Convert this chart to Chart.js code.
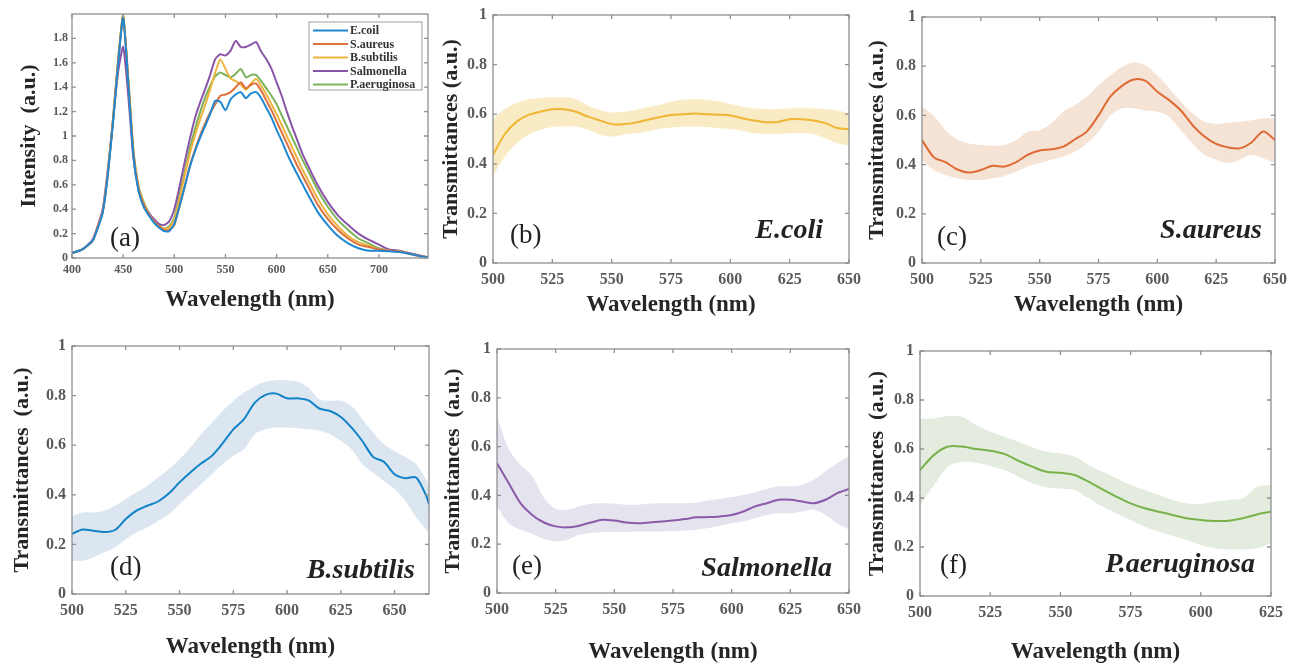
<!DOCTYPE html>
<html>
<head>
<meta charset="utf-8">
<title>Bacteria spectra</title>
<script src="https://cdn.jsdelivr.net/npm/chart.js"></script>
<style>
  html, body { margin: 0; padding: 0; background: #fff; overflow: hidden; }
  body { width: 1297px; height: 665px; position: relative; }
  canvas { position: absolute; }
</style>
</head>
<body>
<canvas id="chartA"></canvas>
<canvas id="chartB"></canvas>
<canvas id="chartC"></canvas>
<canvas id="chartD"></canvas>
<canvas id="chartE"></canvas>
<canvas id="chartF"></canvas>
<script>
// ---- (a) emission spectra ----
const waveA = [400,410,420,425,430,435,440,445,450,455,460,465,470,475,480,485,490,495,500,505,510,515,520,525,530,535,540,545,550,555,560,565,570,575,580,585,590,595,600,605,610,615,620,625,630,640,650,660,670,680,690,700,710,720,730,740,748];
const ecoliA = [0.04,0.07,0.14,0.24,0.37,0.68,1.10,1.58,1.97,1.43,0.84,0.55,0.42,0.35,0.29,0.25,0.22,0.22,0.28,0.42,0.58,0.74,0.87,0.98,1.08,1.18,1.29,1.28,1.21,1.30,1.34,1.36,1.31,1.35,1.36,1.31,1.23,1.15,1.05,0.96,0.86,0.77,0.69,0.61,0.53,0.38,0.27,0.18,0.12,0.08,0.06,0.06,0.055,0.05,0.035,0.015,0.005];
const saureusA = [0.04,0.07,0.14,0.25,0.38,0.69,1.12,1.60,1.98,1.45,0.86,0.57,0.44,0.36,0.30,0.26,0.23,0.23,0.27,0.42,0.58,0.75,0.88,1.00,1.10,1.19,1.26,1.33,1.34,1.36,1.40,1.44,1.39,1.42,1.43,1.37,1.29,1.21,1.12,1.03,0.94,0.85,0.76,0.68,0.60,0.44,0.32,0.23,0.16,0.11,0.09,0.07,0.06,0.055,0.035,0.015,0.005];
const bsubtilisA = [0.04,0.07,0.14,0.25,0.38,0.70,1.13,1.61,1.99,1.46,0.88,0.58,0.45,0.36,0.30,0.26,0.24,0.25,0.31,0.48,0.67,0.85,1.00,1.13,1.25,1.38,1.52,1.63,1.55,1.47,1.45,1.42,1.38,1.43,1.47,1.41,1.34,1.26,1.18,1.09,1.00,0.91,0.82,0.73,0.65,0.49,0.36,0.26,0.18,0.13,0.10,0.07,0.06,0.055,0.035,0.015,0.005];
const salmonellaA = [0.04,0.07,0.15,0.26,0.40,0.72,1.12,1.52,1.73,1.33,0.82,0.56,0.44,0.37,0.32,0.28,0.27,0.30,0.40,0.58,0.78,0.97,1.14,1.27,1.38,1.50,1.63,1.67,1.66,1.70,1.78,1.73,1.73,1.75,1.77,1.69,1.63,1.55,1.44,1.33,1.20,1.08,0.97,0.86,0.77,0.60,0.46,0.35,0.27,0.20,0.15,0.11,0.07,0.06,0.04,0.02,0.005];
const paeruginosaA = [0.04,0.07,0.14,0.25,0.38,0.70,1.13,1.62,1.98,1.47,0.89,0.59,0.46,0.37,0.31,0.27,0.24,0.26,0.33,0.51,0.70,0.89,1.05,1.19,1.31,1.41,1.49,1.52,1.50,1.48,1.51,1.55,1.48,1.50,1.50,1.45,1.39,1.33,1.26,1.17,1.08,0.99,0.90,0.81,0.73,0.56,0.42,0.31,0.23,0.16,0.12,0.08,0.06,0.055,0.035,0.015,0.005];
const namesA = ['E.coil','S.aureus','B.subtilis','Salmonella','P.aeruginosa'];
const xTicksA = [400,450,500,550,600,650,700];
const yTicksA = [0,0.2,0.4,0.6,0.8,1,1.2,1.4,1.6,1.8];

// ---- (b)-(f) transmittance, mean with spread ----
const wave500to650 = [500,505,510,515,520,525,530,535,540,545,550,555,560,565,570,575,580,585,590,595,600,605,610,615,620,625,630,635,640,645,650];
const waveD = [500,505,510,515,520,525,530,535,540,545,550,555,560,565,570,575,580,585,590,595,600,605,610,615,620,625,630,635,640,645,650,655,660,665,666];
const waveF = [500,505,510,515,520,525,530,535,540,545,550,555,560,565,570,575,580,585,590,595,600,605,610,615,620,625];

const meanB = [0.436,0.52,0.57,0.597,0.61,0.62,0.62,0.61,0.59,0.575,0.56,0.56,0.566,0.577,0.588,0.597,0.60,0.603,0.60,0.598,0.595,0.584,0.575,0.568,0.569,0.58,0.58,0.575,0.564,0.544,0.54];
const upperB = [0.58,0.62,0.645,0.66,0.665,0.668,0.668,0.66,0.634,0.617,0.607,0.61,0.617,0.628,0.637,0.65,0.658,0.66,0.658,0.651,0.642,0.63,0.624,0.62,0.62,0.624,0.624,0.624,0.62,0.615,0.604];
const lowerB = [0.35,0.43,0.483,0.517,0.537,0.548,0.55,0.55,0.537,0.517,0.51,0.517,0.523,0.53,0.54,0.546,0.55,0.55,0.548,0.544,0.54,0.533,0.523,0.52,0.52,0.523,0.523,0.52,0.503,0.483,0.474];

const meanC = [0.50,0.43,0.41,0.38,0.368,0.378,0.395,0.392,0.41,0.44,0.457,0.462,0.473,0.503,0.534,0.60,0.676,0.72,0.746,0.74,0.696,0.662,0.62,0.56,0.514,0.484,0.47,0.466,0.49,0.535,0.50];
const upperC = [0.635,0.60,0.54,0.503,0.486,0.48,0.477,0.48,0.50,0.534,0.54,0.568,0.615,0.642,0.676,0.723,0.763,0.797,0.815,0.804,0.763,0.71,0.655,0.608,0.574,0.565,0.57,0.574,0.58,0.588,0.588];
const lowerC = [0.42,0.378,0.358,0.345,0.338,0.338,0.345,0.354,0.372,0.392,0.405,0.42,0.432,0.453,0.486,0.534,0.60,0.628,0.628,0.62,0.615,0.595,0.54,0.486,0.44,0.42,0.408,0.42,0.44,0.426,0.405];

const meanD = [0.242,0.26,0.255,0.25,0.258,0.302,0.336,0.356,0.373,0.405,0.45,0.49,0.526,0.557,0.607,0.664,0.705,0.772,0.803,0.808,0.789,0.789,0.781,0.748,0.738,0.714,0.671,0.617,0.553,0.533,0.483,0.467,0.47,0.39,0.362];
const upperD = [0.315,0.329,0.329,0.336,0.356,0.383,0.41,0.436,0.47,0.503,0.544,0.59,0.644,0.691,0.738,0.778,0.812,0.839,0.856,0.862,0.862,0.856,0.832,0.785,0.779,0.779,0.758,0.705,0.651,0.604,0.577,0.553,0.523,0.456,0.43];
const lowerD = [0.134,0.134,0.148,0.168,0.188,0.221,0.248,0.268,0.295,0.322,0.362,0.403,0.443,0.483,0.523,0.557,0.584,0.644,0.664,0.671,0.671,0.668,0.664,0.658,0.644,0.617,0.584,0.523,0.49,0.456,0.423,0.376,0.309,0.255,0.248];

const meanE = [0.532,0.45,0.368,0.32,0.289,0.273,0.269,0.276,0.289,0.30,0.297,0.289,0.286,0.289,0.293,0.297,0.303,0.31,0.311,0.314,0.32,0.334,0.355,0.368,0.382,0.382,0.375,0.368,0.382,0.409,0.426];
const upperE = [0.723,0.59,0.525,0.48,0.39,0.345,0.341,0.355,0.366,0.368,0.366,0.362,0.362,0.366,0.368,0.368,0.368,0.371,0.379,0.385,0.393,0.402,0.413,0.426,0.437,0.437,0.443,0.464,0.498,0.532,0.559];
const lowerE = [0.355,0.286,0.259,0.243,0.221,0.211,0.218,0.239,0.246,0.25,0.25,0.25,0.252,0.252,0.252,0.254,0.255,0.259,0.266,0.276,0.286,0.293,0.307,0.32,0.327,0.327,0.334,0.341,0.32,0.286,0.259];

const meanF = [0.514,0.576,0.61,0.61,0.60,0.593,0.58,0.552,0.528,0.507,0.503,0.494,0.467,0.435,0.405,0.378,0.358,0.344,0.331,0.317,0.31,0.306,0.307,0.317,0.333,0.344];
const upperF = [0.725,0.725,0.735,0.732,0.698,0.671,0.65,0.63,0.607,0.589,0.582,0.569,0.535,0.507,0.48,0.453,0.433,0.412,0.392,0.378,0.376,0.385,0.392,0.399,0.446,0.453];
const lowerF = [0.371,0.453,0.528,0.548,0.544,0.531,0.514,0.487,0.46,0.444,0.439,0.433,0.399,0.365,0.337,0.31,0.283,0.263,0.245,0.229,0.208,0.195,0.19,0.19,0.195,0.215];

const xTicks650 = [500,525,550,575,600,625,650];
const xTicks625 = [500,525,550,575,600,625];
const yTicksT = [0,0.2,0.4,0.6,0.8,1];

const serif = "'Liberation Serif', 'Times New Roman', serif";
const pts = (xs, ys) => xs.map((x, i) => ({x: x, y: ys[i]}));

// box, inward ticks, panel letters, species name, legend
const frame = {
  id: 'frame',
  afterDraw(chart, args, o) {
    const {ctx, chartArea: a} = chart;
    const xs = chart.scales.x, ys = chart.scales.y;
    ctx.save();
    ctx.strokeStyle = '#909090';
    ctx.lineWidth = 1.3;
    ctx.strokeRect(a.left, a.top, a.right - a.left, a.bottom - a.top);
    ctx.beginPath();
    xs.ticks.forEach(t => {
      const p = xs.getPixelForValue(t.value);
      ctx.moveTo(p, a.bottom); ctx.lineTo(p, a.bottom - 4);
      ctx.moveTo(p, a.top); ctx.lineTo(p, a.top + 4);
    });
    ys.ticks.forEach(t => {
      const p = ys.getPixelForValue(t.value);
      ctx.moveTo(a.left, p); ctx.lineTo(a.left + 4, p);
      ctx.moveTo(a.right, p); ctx.lineTo(a.right - 4, p);
    });
    ctx.stroke();

    ctx.fillStyle = '#222';
    ctx.textBaseline = 'alphabetic';
    ctx.textAlign = 'left';
    ctx.font = '27px ' + serif;
    ctx.fillText(o.tag, a.left + o.tagDx, a.bottom + o.tagDy);
    if (o.name) {
      ctx.textAlign = 'right';
      ctx.font = 'italic bold 28px ' + serif;
      ctx.fillText(o.name, a.right + o.nameDx, a.bottom + o.nameDy);
    }
    if (o.legend) {
      const lg = o.legend;
      const bx = a.left + lg.dx, by = a.top + lg.dy;
      ctx.fillStyle = '#fff';
      ctx.fillRect(bx, by, lg.w, lg.h);
      ctx.strokeStyle = '#a0a0a0';
      ctx.lineWidth = 1;
      ctx.strokeRect(bx, by, lg.w, lg.h);
      ctx.font = 'bold 12px ' + serif;
      ctx.textAlign = 'left';
      ctx.textBaseline = 'middle';
      chart.data.datasets.forEach((ds, i) => {
        const cy = by + 8.5 + i * 13.5;
        ctx.strokeStyle = ds.borderColor;
        ctx.lineWidth = 2;
        ctx.beginPath(); ctx.moveTo(bx + 4, cy); ctx.lineTo(bx + 39, cy); ctx.stroke();
        ctx.fillStyle = '#333';
        ctx.fillText(ds.label, bx + 41, cy + 0.5);
      });
    }
    ctx.restore();
  }
};

function makePanel(id, area, xAxis, yAxis, datasets, frameOpts, tickSize, yTitle) {
  const yLH = 22 * 1.2, xLH = 23 * 1.2;
  const left = Math.round(area.yTitle - yLH / 2);
  const top = area.T - 12;
  const right = area.R + 18;
  const bottom = Math.round(area.xTitle + xLH / 2);
  const cv = document.getElementById(id);
  cv.width = right - left;
  cv.height = bottom - top;
  cv.style.left = left + 'px';
  cv.style.top = top + 'px';
  const yW = area.L - left, xH = bottom - area.B;
  const tickFont = {family: serif, size: tickSize, weight: 'bold'};
  new Chart(cv, {
    type: 'line',
    data: {datasets: datasets},
    options: {
      responsive: false,
      animation: false,
      layout: {padding: {top: area.T - top, right: right - area.R, left: 0, bottom: 0}},
      plugins: {legend: {display: false}, tooltip: {enabled: false}, frame: frameOpts},
      elements: {point: {radius: 0}},
      scales: {
        x: {
          type: 'linear', min: xAxis.min, max: xAxis.max,
          afterBuildTicks: s => { s.ticks = xAxis.ticks.map(v => ({value: v})); },
          afterFit: s => { s.height = xH; s.paddingLeft = 0; s.paddingRight = 0; },
          grid: {display: false, drawTicks: false},
          border: {display: false},
          ticks: {autoSkip: false, maxRotation: 0, padding: tickSize > 12 ? 7 : 5, color: '#5a5a5a', font: tickFont, callback: v => String(v)},
          title: {display: true, text: 'Wavelength (nm)', padding: 0, color: '#262626',
                  font: {family: serif, size: 23, weight: 'bold', lineHeight: 1.2}}
        },
        y: {
          type: 'linear', min: yAxis.min, max: yAxis.max,
          afterBuildTicks: s => { s.ticks = yAxis.ticks.map(v => ({value: v})); },
          afterFit: s => { s.width = yW; s.paddingTop = 0; s.paddingBottom = 0; },
          grid: {display: false, drawTicks: false},
          border: {display: false},
          ticks: {autoSkip: false, padding: tickSize > 12 ? 6 : 4, color: '#5a5a5a', font: tickFont, callback: v => String(v)},
          title: {display: true, text: yTitle, padding: 0, color: '#262626',
                  font: {family: serif, size: 22, weight: 'bold', lineHeight: 1.2}}
        }
      }
    },
    plugins: [frame]
  });
}

function bandSets(name, xs, mean, upper, lower, line, fill) {
  return [
    {label: name, data: pts(xs, mean), borderColor: line, borderWidth: 2, tension: 0.3, fill: false},
    {label: name + ' upper', data: pts(xs, upper), borderWidth: 0, borderColor: 'rgba(0,0,0,0)', backgroundColor: fill, tension: 0.3, fill: '+1'},
    {label: name + ' lower', data: pts(xs, lower), borderWidth: 0, borderColor: 'rgba(0,0,0,0)', tension: 0.3, fill: false}
  ];
}

const coloursA = ['#1f88d0', '#dd6f3c', '#eeb43e', '#8a55a8', '#7bb35a'];
const seriesA = [ecoliA, saureusA, bsubtilisA, salmonellaA, paeruginosaA];

makePanel('chartA', {L: 72, T: 14, R: 428, B: 258, yTitle: 29, xTitle: 300},
  {min: 400, max: 748, ticks: xTicksA}, {min: 0, max: 2, ticks: yTicksA},
  seriesA.map((s, i) => ({label: namesA[i], data: pts(waveA, s), borderColor: coloursA[i], borderWidth: 2, tension: 0.2, fill: false})),
  {tag: '(a)', tagDx: 38, tagDy: -12, legend: {dx: 237, dy: 8, w: 113, h: 68}}, 12, 'Intensity  (a.u.)');

makePanel('chartB', {L: 493, T: 15, R: 849, B: 263, yTitle: 451, xTitle: 305},
  {min: 500, max: 650, ticks: xTicks650}, {min: 0, max: 1, ticks: yTicksT},
  bandSets('E.coli', wave500to650, meanB, upperB, lowerB, '#efb534', '#f9ebc4'),
  {tag: '(b)', tagDx: 17, tagDy: -20, name: 'E.coli', nameDx: -26, nameDy: -25}, 16, 'Transmittances (a.u.)');

makePanel('chartC', {L: 922, T: 17, R: 1275, B: 263, yTitle: 877, xTitle: 305},
  {min: 500, max: 650, ticks: xTicks650}, {min: 0, max: 1, ticks: yTicksT},
  bandSets('S.aureus', wave500to650, meanC, upperC, lowerC, '#df6a35', '#f5e3d6'),
  {tag: '(c)', tagDx: 15, tagDy: -18, name: 'S.aureus', nameDx: -13, nameDy: -25}, 16, 'Transmittances (a.u.)');

makePanel('chartD', {L: 72, T: 346, R: 429, B: 594, yTitle: 22, xTitle: 647},
  {min: 500, max: 666, ticks: xTicks650}, {min: 0, max: 1, ticks: yTicksT},
  bandSets('B.subtilis', waveD, meanD, upperD, lowerD, '#0f82c8', '#dce6f0'),
  {tag: '(d)', tagDx: 38, tagDy: -19, name: 'B.subtilis', nameDx: -14, nameDy: -16}, 16, 'Transmittances  (a.u.)');

makePanel('chartE', {L: 497, T: 349, R: 849, B: 593, yTitle: 453, xTitle: 652},
  {min: 500, max: 650, ticks: xTicks650}, {min: 0, max: 1, ticks: yTicksT},
  bandSets('Salmonella', wave500to650, meanE, upperE, lowerE, '#8c5aaa', '#e4e3ee'),
  {tag: '(e)', tagDx: 15, tagDy: -19, name: 'Salmonella', nameDx: -17, nameDy: -17}, 16, 'Transmittances  (a.u.)');

makePanel('chartF', {L: 920, T: 351, R: 1271, B: 596, yTitle: 877, xTitle: 652},
  {min: 500, max: 625, ticks: xTicks625}, {min: 0, max: 1, ticks: yTicksT},
  bandSets('P.aeruginosa', waveF, meanF, upperF, lowerF, '#78b24a', '#e3ecdf'),
  {tag: '(f)', tagDx: 20, tagDy: -23, name: 'P.aeruginosa', nameDx: -16, nameDy: -24}, 16, 'Transmittances  (a.u.)');
</script>
</body>
</html>
